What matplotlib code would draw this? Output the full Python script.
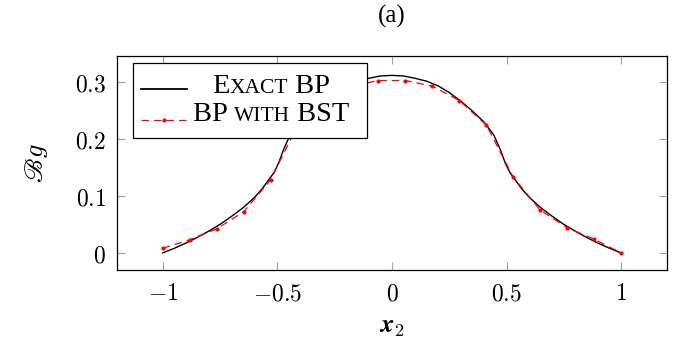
import numpy as np
import matplotlib
matplotlib.use("Agg")
import matplotlib.pyplot as plt
from matplotlib.lines import Line2D
from matplotlib.offsetbox import AnchoredOffsetbox, HPacker, VPacker, TextArea, DrawingArea

plt.rcParams['mathtext.fontset'] = 'cm'

# exact solution
exact_x = [-1.0, -0.95, -0.9, -0.85, -0.8, -0.75, -0.7, -0.65, -0.6, -0.567, -0.516,
           -0.495, -0.473, -0.444, -0.4, -0.35, -0.3, -0.25, -0.2, -0.15, -0.1, -0.05, 0.0,
           0.05, 0.1, 0.15, 0.2, 0.25, 0.3, 0.35, 0.4, 0.444, 0.473, 0.495, 0.516,
           0.567, 0.6, 0.65, 0.7, 0.75, 0.8, 0.85, 0.9, 0.95, 1.0]
exact_y = [0.0, 0.008, 0.017, 0.027, 0.038, 0.050, 0.064, 0.079, 0.097, 0.112, 0.140,
           0.157, 0.181, 0.207, 0.230, 0.249, 0.266, 0.281, 0.293, 0.301, 0.306, 0.310, 0.311,
           0.310, 0.306, 0.301, 0.293, 0.281, 0.266, 0.249, 0.230, 0.207, 0.181, 0.157, 0.140,
           0.112, 0.097, 0.079, 0.064, 0.050, 0.038, 0.027, 0.017, 0.008, 0.0]

# BP with BST
bst_x = [-1.0, -0.882, -0.765, -0.647, -0.529, -0.412, -0.294, -0.176, -0.059,
         0.059, 0.176, 0.294, 0.412, 0.529, 0.647, 0.765, 0.882, 1.0]
bst_y = [0.008, 0.023, 0.042, 0.072, 0.128, 0.224, 0.267, 0.292, 0.302,
         0.302, 0.292, 0.267, 0.224, 0.133, 0.075, 0.044, 0.024, 0.0]

xticks = [-1, -0.5, 0, 0.5, 1]
yticks = [0, 0.1, 0.2, 0.3]

serif = ['Liberation Serif', 'DejaVu Serif']
dash = (0, (6, 4))

fig = plt.figure(figsize=(6.75, 3.41), dpi=100)
ax = fig.add_axes([0.1733, 0.2082, 0.8147, 0.6276])

ax.plot(exact_x, exact_y, color='black', lw=1.0)
ax.plot(bst_x, bst_y, color='red', lw=0.9, ls=dash, marker='o', ms=2.0)

ax.set_xlim(-1.2, 1.2)
ax.set_ylim(-0.03, 0.345)
ax.set_xticks(xticks)
ax.set_yticks(yticks)
ax.set_xticklabels([f'${v:g}$' for v in xticks])
ax.set_yticklabels([f'${v:g}$' for v in yticks])
ax.tick_params(direction='in', length=6, width=0.8, color='#a0a0a0',
               top=True, right=True, labelsize=17, pad=8)
for s in ax.spines.values():
    s.set_linewidth(0.9)

ax.set_xlabel(r'$\boldsymbol{x}_2$', fontsize=19, labelpad=6)
ax.set_ylabel(r'$\mathscr{B}g$', fontsize=19, labelpad=18)
ax.text(0.5, 1.13, '(a)', transform=ax.transAxes, ha='center', va='bottom',
        family=serif, fontsize=18)


# legend with small caps labels
def caps_label(parts):
    boxes = [TextArea(t, textprops=dict(family=serif, fontsize=sz)) for t, sz in parts]
    return HPacker(children=boxes, align='baseline', pad=0, sep=0)


def handle(**kw):
    da = DrawingArea(33, 20, 0, 0)
    da.add_artist(Line2D([0, 16.5, 33], [7, 7, 7], **kw))
    return da


texts = VPacker(children=[caps_label([('E', 20.5), ('XACT', 15.5), (' BP', 20.5)]),
                          caps_label([('BP ', 20.5), ('WITH', 15.5), (' BST', 20.5)])],
                align='center', pad=0, sep=2)
handles = VPacker(children=[handle(color='black', lw=1.3),
                            handle(color='red', lw=0.9, ls=dash, marker='o', ms=2.0, markevery=[1])],
                  align='center', pad=0, sep=2)
box = HPacker(children=[handles, texts, DrawingArea(3, 1, 0, 0)],
              align='center', pad=0, sep=4)
leg = AnchoredOffsetbox(loc='upper left', child=box, pad=0.6, borderpad=0, frameon=True,
                        bbox_to_anchor=(0.029, 0.967), bbox_transform=ax.transAxes)
leg.patch.set_boxstyle('square', pad=0)
leg.patch.set_edgecolor('black')
leg.patch.set_linewidth(0.9)
ax.add_artist(leg)

fig.savefig('out.png', dpi=100)
